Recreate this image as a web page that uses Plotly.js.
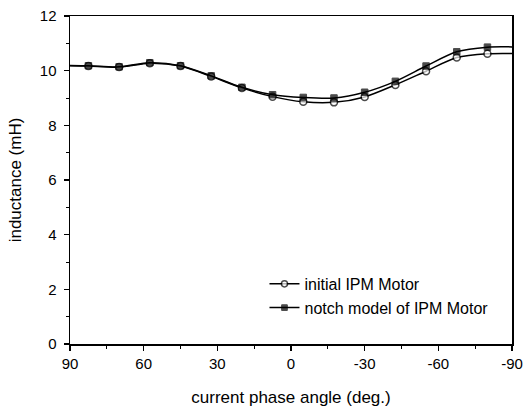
<!DOCTYPE html>
<html>
<head>
<meta charset="utf-8">
<script src="https://cdn.plot.ly/plotly-3.0.1.min.js"></script>
<style>html,body{margin:0;padding:0;background:#fff;}#chart{width:526px;height:409px;}</style>
</head>
<body>
<div id="chart"></div>
<script>
// current phase angle (deg.) — end values at ±90 are where the curves meet the frame (no marker)
const angles = [90, 82.5, 70, 57.5, 45, 32.5, 20, 7.5, -5, -17.5, -30, -42.5, -55, -67.5, -80, -90];
const initialIPM = [10.18, 10.17, 10.13, 10.27, 10.17, 9.79, 9.37, 9.05, 8.86, 8.84, 9.04, 9.48, 9.98, 10.48, 10.62, 10.63];
const notchIPM = [10.19, 10.18, 10.14, 10.29, 10.18, 9.81, 9.39, 9.12, 9.02, 9.00, 9.21, 9.61, 10.17, 10.69, 10.86, 10.87];
const xTicks = [90, 60, 30, 0, -30, -60, -90];
const yTicks = [0, 2, 4, 6, 8, 10, 12];
const seriesNames = ["initial IPM Motor", "notch model of IPM Motor"];

const markerSizes = angles.map(a => (Math.abs(a) === 90 ? 0 : 7));

const fam = "Liberation Sans, Arial, sans-serif";
const tickFont = {family: fam, size: 15, color: "#000"};
const titleFont = {family: fam, size: 17, color: "#000"};
const legendFont = {family: fam, size: 16, color: "#000"};

const traces = [
  {
    x: angles, y: initialIPM, name: seriesNames[0], type: "scatter", mode: "lines+markers",
    line: {color: "#000", width: 1.5, shape: "spline", smoothing: 0.8},
    marker: {symbol: "circle", size: markerSizes, color: "#fff", line: {color: "#000", width: 1.5}}
  },
  {
    x: angles, y: notchIPM, name: seriesNames[1], type: "scatter", mode: "lines+markers",
    line: {color: "#000", width: 1.5, shape: "spline", smoothing: 0.8},
    marker: {symbol: "square", size: markerSizes.map(s => s ? 6.5 : 0), color: "#000", line: {color: "#000", width: 1}}
  }
];

const layout = {
  width: 526, height: 409,
  margin: {l: 70, r: 14, t: 16, b: 65},
  paper_bgcolor: "#fff", plot_bgcolor: "#fff",
  font: tickFont,
  showlegend: true,
  legend: {x: 0.44, y: 0.235, xanchor: "left", yanchor: "top", bgcolor: "rgba(0,0,0,0)",
           font: legendFont, tracegroupgap: 0, itemwidth: 30},
  xaxis: {
    range: [90, -90], tickvals: xTicks, ticktext: xTicks.map(String),
    ticks: "outside", ticklen: 5, tickwidth: 1.5, tickcolor: "#000",
    minor: {dtick: 15, tick0: 0, ticks: "outside", ticklen: 3, tickwidth: 1, tickcolor: "#000"},
    showline: true, linecolor: "#000", linewidth: 1.5, mirror: true,
    showgrid: false, zeroline: false,
    tickfont: tickFont,
    title: {text: "current phase angle (deg.)", font: titleFont, standoff: 20}
  },
  yaxis: {
    range: [0, 12], tickvals: yTicks, ticktext: yTicks.map(String),
    ticks: "outside", ticklen: 5, tickwidth: 1.5, tickcolor: "#000",
    minor: {dtick: 1, tick0: 0, ticks: "outside", ticklen: 3, tickwidth: 1, tickcolor: "#000"},
    showline: true, linecolor: "#000", linewidth: 1.5, mirror: true,
    showgrid: false, zeroline: false,
    tickfont: tickFont, ticklabelstandoff: 4,
    title: {text: "inductance (mH)", font: titleFont, standoff: 14}
  }
};

Plotly.newPlot("chart", traces, layout, {displayModeBar: false, staticPlot: true});
</script>
</body>
</html>
